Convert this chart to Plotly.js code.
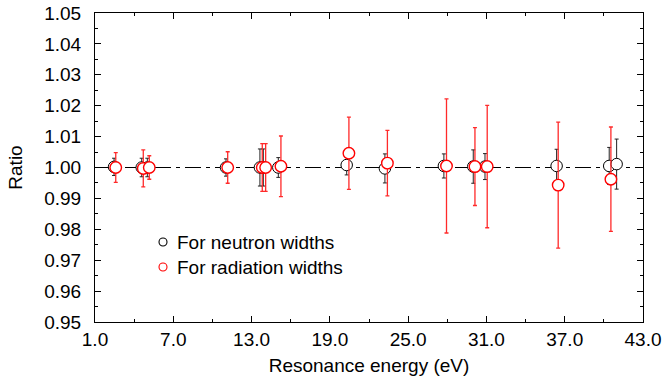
<!DOCTYPE html>
<html>
<head>
<meta charset="utf-8">
<script src="https://cdn.plot.ly/plotly-3.0.1.min.js"></script>
<style>
  html, body { margin: 0; padding: 0; background: #fff; }
  #chart { width: 663px; height: 381px; }
</style>
</head>
<body>
<div id="chart"></div>
<script>
// Neutron-width ratios (black)
const neutronEnergy = [2.46, 4.58, 5.01, 11.04, 13.64, 13.90, 15.05, 20.29, 23.22, 27.74, 29.99, 30.89, 36.38, 40.41, 40.98];
const neutronRatio  = [1.0002, 1.0000, 1.0000, 1.0000, 1.0000, 1.0000, 1.0000, 1.0008, 0.9997, 1.0005, 1.0003, 1.0003, 1.0005, 1.0005, 1.0011];
const neutronError  = [0.0028, 0.0030, 0.0030, 0.0028, 0.0060, 0.0060, 0.0032, 0.0032, 0.0047, 0.0039, 0.0054, 0.0042, 0.0054, 0.0060, 0.0081];

// Radiation-width ratios (red)
const radiationEnergy = [2.59, 4.70, 5.16, 11.17, 13.82, 14.08, 15.25, 20.46, 23.41, 27.94, 30.12, 31.06, 36.50, 40.54];
const radiationRatio  = [1.0000, 0.9997, 1.0000, 1.0000, 1.0000, 1.0000, 1.0004, 1.0046, 1.0014, 1.0005, 1.0003, 1.0003, 0.9943, 0.9962];
const radiationError  = [0.0048, 0.0060, 0.0038, 0.0051, 0.0077, 0.0077, 0.0098, 0.0117, 0.0106, 0.0217, 0.0126, 0.0198, 0.0204, 0.0169];

// Reference line at ratio = 1
const refLineX = [1, 43];
const refLineY = [1, 1];

// Axis ticks
const xTickVals = [1, 7, 13, 19, 25, 31, 37, 43];
const xTickText = ['1.0', '7.0', '13.0', '19.0', '25.0', '31.0', '37.0', '43.0'];

// Legend labels
const legendLabels = ['For neutron widths', 'For radiation widths'];
const legendColors = ['#000000', '#ff0000'];

const FONT = '"Liberation Sans", Arial, Helvetica, sans-serif';
const FS = 19;

const traces = [
  {
    x: refLineX, y: refLineY, mode: 'lines', showlegend: false, hoverinfo: 'skip',
    line: { color: '#000', width: 1, dash: '16px,5px,4px,5px' }
  },
  {
    x: neutronEnergy, y: neutronRatio, mode: 'markers', name: legendLabels[0], showlegend: false,
    error_y: { type: 'data', array: neutronError, visible: true, color: '#222', thickness: 1, width: 2 },
    marker: { symbol: 'circle', size: 11.5, color: '#fff', line: { color: '#000', width: 1 } }
  },
  {
    x: radiationEnergy, y: radiationRatio, mode: 'markers', name: legendLabels[1], showlegend: false,
    error_y: { type: 'data', array: radiationError, visible: true, color: '#ff2a2a', thickness: 1.3, width: 2 },
    marker: { symbol: 'circle', size: 11.5, color: '#fff', line: { color: '#ff0000', width: 1.4 } }
  }
];

// Legend drawn as pixel-anchored circles + text annotations inside the plot
const plotL = 95, plotT = 13, plotW = 548, plotH = 309;
const legendRowsY = [242, 267];
const legendMarkX = 163, legendTextX = 175;
const shapes = [], annotations = [];
legendLabels.forEach((lab, i) => {
  const py = 1 - (legendRowsY[i] - plotT) / plotH;
  const px = (legendMarkX - plotL) / plotW;
  shapes.push({
    type: 'circle', xref: 'paper', yref: 'paper',
    xsizemode: 'pixel', ysizemode: 'pixel',
    xanchor: px, yanchor: py, x0: -4, x1: 4, y0: -4, y1: 4,
    line: { color: legendColors[i], width: 1.1 }, fillcolor: '#fff'
  });
  annotations.push({
    xref: 'paper', yref: 'paper', x: (legendTextX - plotL) / plotW, y: py,
    xanchor: 'left', yanchor: 'middle', showarrow: false, text: lab,
    font: { family: FONT, size: FS, color: '#000' }
  });
});

const layout = {
  width: 663, height: 381,
  margin: { l: 95, r: 20, t: 13, b: 59 },
  paper_bgcolor: '#fff', plot_bgcolor: '#fff',
  font: { family: FONT, size: FS, color: '#000' },
  showlegend: false,
  shapes: shapes,
  annotations: annotations,
  xaxis: {
    range: [1, 43], tickmode: 'array', tickvals: xTickVals, ticktext: xTickText,
    ticks: 'inside', ticklen: 6, tickwidth: 1, tickcolor: '#000',
    minor: { dtick: 3, tick0: 1, ticks: 'inside', ticklen: 3, tickcolor: '#000', showgrid: false },
    showline: true, linecolor: '#000', linewidth: 1, mirror: 'ticks',
    showgrid: false, zeroline: false,
    tickfont: { family: FONT, size: FS, color: '#000' },
    title: { text: 'Resonance energy (eV)', font: { family: FONT, size: FS, color: '#000' }, standoff: 9 }
  },
  yaxis: {
    range: [0.95, 1.05], dtick: 0.01, tick0: 0.95, tickformat: '.2f',
    ticks: 'inside', ticklen: 6, tickwidth: 1, tickcolor: '#000',
    minor: { dtick: 0.005, ticks: 'inside', ticklen: 3, tickcolor: '#000', showgrid: false },
    showline: true, linecolor: '#000', linewidth: 1, mirror: 'ticks',
    showgrid: false, zeroline: false,
    ticklabelstandoff: 9,
    tickfont: { family: FONT, size: FS, color: '#000' },
    title: { text: 'Ratio', font: { family: FONT, size: FS, color: '#000' }, standoff: 16 }
  }
};

Plotly.newPlot('chart', traces, layout, { displayModeBar: false, staticPlot: true });
</script>
</body>
</html>
